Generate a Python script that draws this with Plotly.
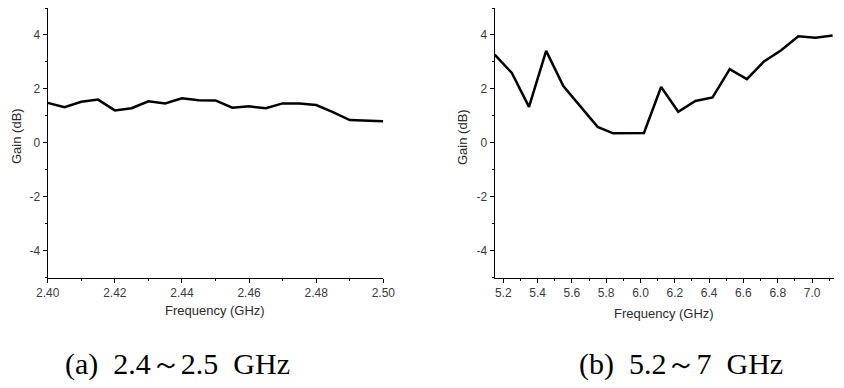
import plotly.graph_objects as go

freq_a = [2.400, 2.405, 2.410, 2.415, 2.420, 2.425, 2.430, 2.435, 2.440, 2.445, 2.450,
          2.455, 2.460, 2.465, 2.470, 2.475, 2.480, 2.485, 2.490, 2.495, 2.500]
gain_a = [1.48, 1.32, 1.52, 1.60, 1.20, 1.28, 1.54, 1.46, 1.65, 1.58, 1.57,
          1.30, 1.35, 1.28, 1.46, 1.46, 1.40, 1.14, 0.84, 0.83, 0.80]

freq_b = [5.15, 5.25, 5.35, 5.45, 5.55, 5.65, 5.75, 5.84, 5.93, 6.02, 6.12,
          6.22, 6.32, 6.42, 6.52, 6.62, 6.72, 6.82, 6.92, 7.02, 7.12]
gain_b = [3.27, 2.59, 1.33, 3.41, 2.10, 1.35, 0.59, 0.35, 0.35, 0.36, 2.07,
          1.15, 1.55, 1.68, 2.73, 2.36, 3.02, 3.43, 3.95, 3.90, 3.98]

y_ticks = [-4, -2, 0, 2, 4]
y_tick_labels = ["-4", "-2", "0", "2", "4"]
x_ticks_a = [2.40, 2.42, 2.44, 2.46, 2.48, 2.50]
x_ticks_b = [5.2, 5.4, 5.6, 5.8, 6.0, 6.2, 6.4, 6.6, 6.8, 7.0]

x_title = "Frequency (GHz)"
y_title = "Gain (dB)"
caption_a = "(a)  2.4～2.5  GHz"
caption_b = "(b)  5.2～7  GHz"

# page has an 8px body margin; figure is shifted accordingly
OFF = 8
W, H = 844 - OFF, 388 - OFF


def px(x):
    return (x - OFF) / W


def py(y):
    return min(1.0, 1 - (y - OFF) / H)


font_sans = "Liberation Sans, Arial, sans-serif"
tick_font = dict(family=font_sans, size=12, color="#3a3a3a")

fig = go.Figure()
fig.add_trace(go.Scatter(x=freq_a, y=gain_a, mode="lines",
                         line=dict(color="black", width=2.5), xaxis="x", yaxis="y",
                         showlegend=False, cliponaxis=False))
fig.add_trace(go.Scatter(x=freq_b, y=gain_b, mode="lines",
                         line=dict(color="black", width=2.5), xaxis="x2", yaxis="y2",
                         showlegend=False, cliponaxis=False))

ydom = [py(277.5), py(8.0)]

common_axis = dict(showgrid=False, zeroline=False, showline=True, linecolor="black",
                   linewidth=1.3, ticks="outside", ticklen=4, tickwidth=1,
                   tickcolor="black", tickfont=tick_font, mirror=False, automargin=False)

fig.update_layout(
    width=W, height=H,
    margin=dict(l=0, r=0, t=0, b=0, pad=0),
    paper_bgcolor="white", plot_bgcolor="white",
    xaxis=dict(domain=[px(47.7), px(383.3)], range=[2.40, 2.50], anchor="y",
               tickvals=x_ticks_a, tickformat=".2f",
               minor=dict(ticks="outside", ticklen=2, dtick=0.01, tick0=2.40, tickcolor="black"),
               **common_axis),
    yaxis=dict(domain=ydom, range=[-5, 5], anchor="x", tickvals=y_ticks, ticktext=y_tick_labels,
               minor=dict(ticks="outside", ticklen=2, dtick=1, tick0=-5, tickcolor="black"),
               **common_axis),
    xaxis2=dict(domain=[px(494.7), px(833.5)], range=[5.15, 7.125], anchor="y2",
                tickvals=x_ticks_b, tickformat=".1f",
                minor=dict(ticks="outside", ticklen=2, dtick=0.1, tick0=5.1, tickcolor="black"),
                **common_axis),
    yaxis2=dict(domain=ydom, range=[-5, 5], anchor="x2", tickvals=y_ticks, ticktext=y_tick_labels,
                minor=dict(ticks="outside", ticklen=2, dtick=1, tick0=-5, tickcolor="black"),
                **common_axis),
)

title_font = dict(family=font_sans, size=13, color="#2a2a2a")
serif = dict(family="Liberation Serif, Times New Roman, serif", size=30, color="black")
ann = [
    dict(text=x_title, x=px(215), y=py(310), font=title_font),
    dict(text=x_title, x=px(664), y=py(313), font=title_font),
    dict(text=y_title, x=px(17), y=py(136), font=title_font, textangle=-90),
    dict(text=y_title, x=px(462), y=py(137), font=title_font, textangle=-90),
    dict(text=caption_a, x=px(177), y=py(364), font=serif),
    dict(text=caption_b, x=px(681), y=py(364), font=serif),
]
for a in ann:
    a.update(xref="paper", yref="paper", showarrow=False, xanchor="center", yanchor="middle")
    fig.add_annotation(**a)

fig.write_html("out.html")
